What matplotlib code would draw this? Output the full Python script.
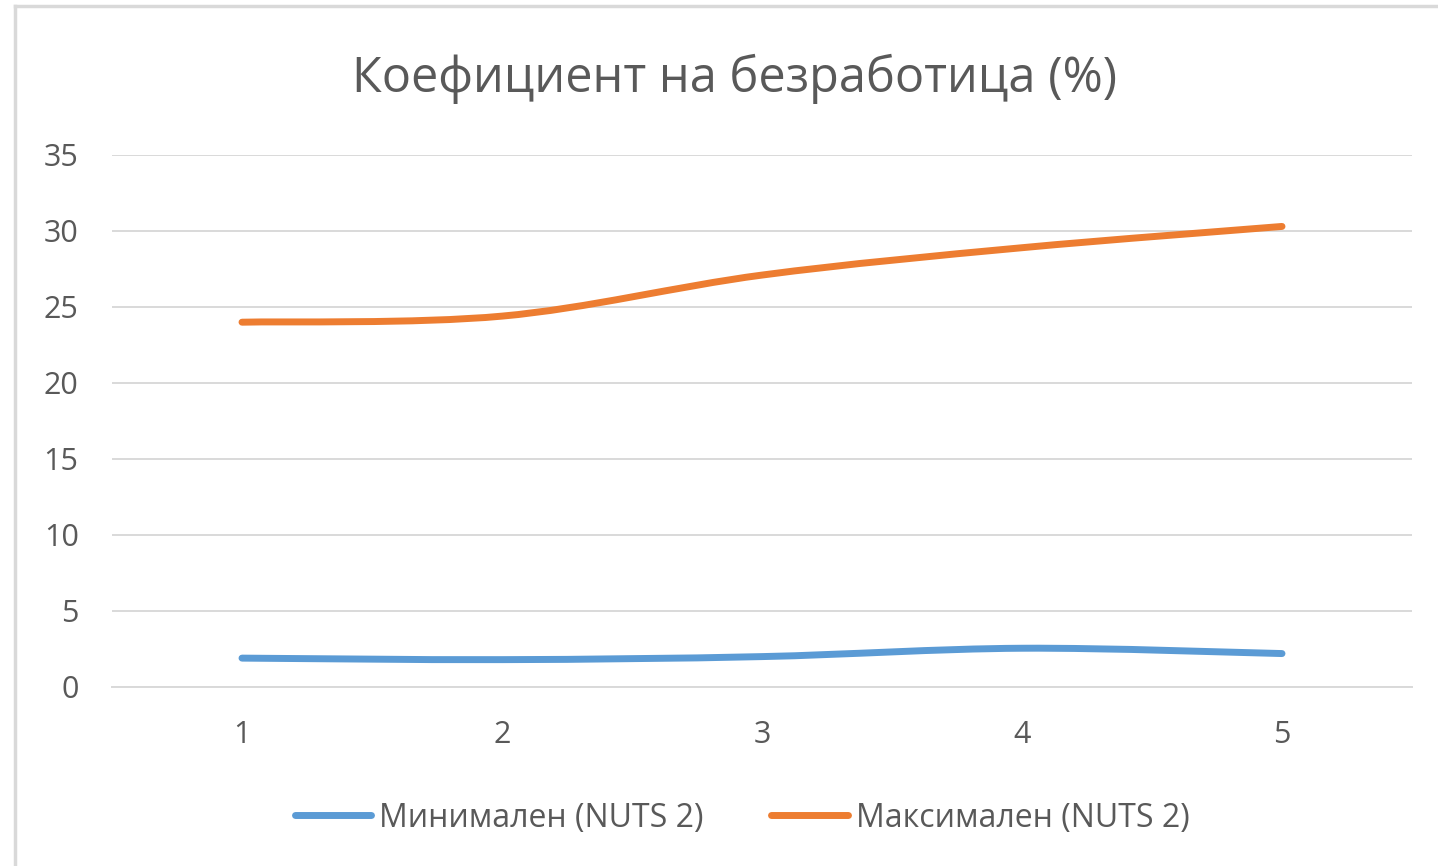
import matplotlib
matplotlib.use("Agg")
import matplotlib.pyplot as plt
from matplotlib.path import Path
from matplotlib.patches import PathPatch
from matplotlib.lines import Line2D
import numpy as np

categories = [1, 2, 3, 4, 5]
min_values = [1.9, 1.8, 2.0, 2.55, 2.2]
max_values = [24.0, 24.4, 27.1, 28.9, 30.3]
series_names = ["Минимален (NUTS 2)", "Максимален (NUTS 2)"]
title = "Коефициент на безработица (%)"
yticks = [0, 5, 10, 15, 20, 25, 30, 35]

BLUE = "#5B9BD5"
ORANGE = "#ED7D31"
TEXT = "#595959"
GRID = "#D9D9D9"

plt.rcParams['font.family'] = ['Open Sans', 'DejaVu Sans']

fig = plt.figure(figsize=(14.38, 8.66), dpi=100)
ax = fig.add_axes([112/1438, 1-687/866, 1300/1438, (687-155)/866])


def smooth_path(xs, ys):
    pts = np.column_stack([xs, ys]).astype(float)
    n = len(pts)
    verts = [pts[0]]
    codes = [Path.MOVETO]
    for i in range(n - 1):
        p0 = pts[i - 1] if i > 0 else pts[i]
        p1 = pts[i]
        p2 = pts[i + 1]
        p3 = pts[i + 2] if i + 2 < n else pts[i + 1]
        c1 = p1 + (p2 - p0) / 6.0
        c2 = p2 - (p3 - p1) / 6.0
        verts += [c1, c2, p2]
        codes += [Path.CURVE4] * 3
    return Path(np.array(verts), codes)


for vals, col in [(min_values, BLUE), (max_values, ORANGE)]:
    patch = PathPatch(smooth_path(categories, vals), fill=False, edgecolor=col,
                      linewidth=5, capstyle='round', joinstyle='round', zorder=3)
    ax.add_patch(patch)

ax.set_xlim(0.5, 5.5)
ax.set_ylim(0, 35)
ax.set_yticks(yticks)
ax.set_xticks(categories)
ax.set_xticklabels([str(c) for c in categories])
ax.grid(axis='y', color=GRID, linewidth=1.4)
ax.set_axisbelow(True)
for s in ax.spines.values():
    s.set_visible(False)
ax.spines['bottom'].set_visible(True)
ax.spines['bottom'].set_color(GRID)
ax.spines['bottom'].set_linewidth(1.4)
ax.tick_params(axis='both', length=0, labelsize=22, labelcolor=TEXT)
ax.tick_params(axis='y', pad=24)
ax.tick_params(axis='x', pad=24)

fig.text(735/1438, 1-79/866, title, ha='center', va='center', fontsize=35, color=TEXT)

handles = [Line2D([0], [0], color=BLUE, lw=5, solid_capstyle='round'),
           Line2D([0], [0], color=ORANGE, lw=5, solid_capstyle='round')]
fig.legend(handles, series_names, loc='center', bbox_to_anchor=(742/1438, 1-818/866),
           ncol=2, frameon=False, fontsize=23, labelcolor=TEXT,
           handlelength=2.4, handletextpad=0.25, columnspacing=2.1)

# outer border (top and left)
fig.add_artist(Line2D([15/1438, 1], [1-6/866, 1-6/866], transform=fig.transFigure,
                      color=GRID, linewidth=2.5))
fig.add_artist(Line2D([15/1438, 15/1438], [0, 1-6/866], transform=fig.transFigure,
                      color=GRID, linewidth=2.5))

fig.savefig("out.png", dpi=100, facecolor='white')
